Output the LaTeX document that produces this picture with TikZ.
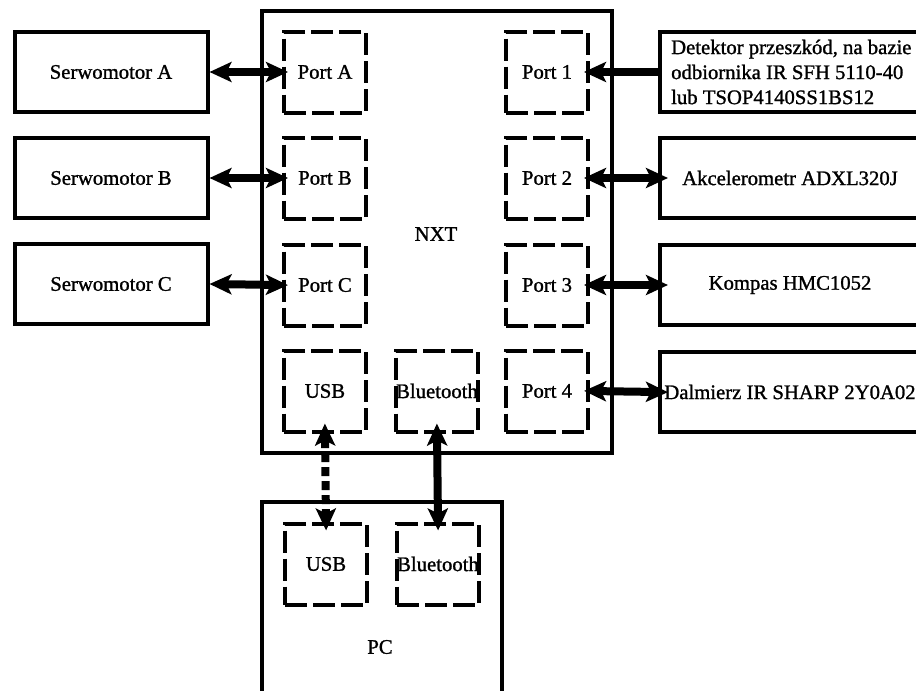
\documentclass[tikz,border=0pt]{standalone}
\usepackage{fontspec}
\setmainfont[FakeBold=1.2]{Liberation Serif}
\usetikzlibrary{arrows.meta}
\begin{document}
\begin{tikzpicture}[x=1pt,y=-1pt,
  every node/.style={font=\fontsize{20.7}{25}\selectfont},
  box/.style={draw,line width=4pt,rectangle,inner sep=0pt,align=center},
  sidebox/.style={box,minimum width=193pt,minimum height=80pt},
  rbox/.style={box,minimum width=260pt,minimum height=80pt},
  portbox/.style={draw,line width=4pt,rectangle,inner sep=0pt,minimum width=82pt,minimum height=81pt,dash pattern=on 22pt off 6pt},
  dbl/.style={line width=8pt,{Stealth[length=22pt,width=20pt,inset=5pt]}-{Stealth[length=22pt,width=20pt,inset=5pt]}},
  sgl/.style={line width=8pt,-{Stealth[length=22pt,width=20pt,inset=5pt]}},
]
\useasboundingbox (0,0) rectangle (916,691);
\clip (0,0) rectangle (916,691);
% NXT and PC
\node[box,minimum width=350pt,minimum height=442pt] (nxt) at (437,232) {};
\node at (436,234) {NXT};
\node[box,minimum width=240pt,minimum height=240pt] (pc) at (382,622) {};
\node at (380,647) {PC};
% left boxes
\node[sidebox] (sA) at (111,72) {Serwomotor A};
\node[sidebox] (sB) at (111,178) {Serwomotor B};
\node[sidebox] (sC) at (111,284) {Serwomotor C};
% ports
\node[portbox] (pA) at (325,72) {Port A};
\node[portbox] (pB) at (325,178) {Port B};
\node[portbox] (pC) at (325,285) {Port C};
\node[portbox] (usb) at (325,391) {USB};
\node[portbox] (bt) at (437,391) {Bluetooth};
\node[portbox] (p1) at (547,72) {Port 1};
\node[portbox] (p2) at (547,178) {Port 2};
\node[portbox] (p3) at (547,285) {Port 3};
\node[portbox] (p4) at (547,391) {Port 4};
\node[portbox] (pcusb) at (326,564) {USB};
\node[portbox] (pcbt) at (438,564) {Bluetooth};
% right boxes
\node[rbox] (det) at (790,72) {};
\node[anchor=west,align=left,inner sep=0pt] (dett) at (671,72) {Detektor przeszkód, na bazie\\odbiornika IR SFH 5110-40\\lub TSOP4140SS1BS12};
\node[rbox] (acc) at (790,178) {Akcelerometr ADXL320J};
\node[rbox] (kom) at (790,285) {Kompas HMC1052};
\node[rbox] (dal) at (790,392) {Dalmierz IR SHARP 2Y0A02};
% arrows
\draw[dbl,shorten >=-6pt] (sA.east) -- (pA.west);
\draw[dbl,shorten >=-6pt] (sB.east) -- (pB.west);
\draw[dbl,shorten >=-6pt] (sC.east) -- (pC.west);
\draw[sgl,shorten >=-6pt] (det.west) -- (p1.east);
\draw[dbl,shorten <=-6pt,shorten >=-10pt] (p2.east) -- (acc.west);
\draw[dbl,shorten <=-6pt,shorten >=-10pt] (p3.east) -- (kom.west);
\draw[dbl,shorten <=-6pt,shorten >=-10pt] (p4.east) -- (dal.west);
\draw[dbl,dash pattern=on 9pt off 5pt,shorten <=-10pt,shorten >=-9pt] (usb.south) -- (pcusb.north);
\draw[dbl,shorten <=-10pt,shorten >=-9pt] (bt.south) -- (pcbt.north);
\end{tikzpicture}
\end{document}
